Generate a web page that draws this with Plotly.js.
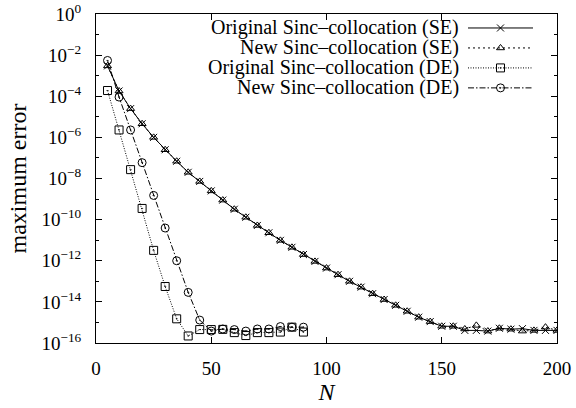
<!DOCTYPE html>
<html>
<head>
<meta charset="utf-8">
<script src="https://cdn.plot.ly/plotly-3.0.1.min.js"></script>
<style>
html,body{margin:0;padding:0;background:#fff;}
#plot{width:576px;height:408px;}
</style>
</head>
<body>
<div id="plot"></div>
<script>
// ---- data ----
const seriesNames = [
  "Original Sinc\u2013collocation (SE)",
  "New Sinc\u2013collocation (SE)",
  "Original Sinc\u2013collocation (DE)",
  "New Sinc\u2013collocation (DE)"
];
const N_SE = [5,10,15,20,25,30,35,40,45,50,55,60,65,70,75,80,85,90,95,100,
              105,110,115,120,125,130,135,140,145,150,155,160,165,170,175,180,185,190,195,200];
const N_DE = [5,10,15,20,25,30,35,40,45,50,55,60,65,70,75,80,85,90];

const origSE = [3.0e-3,1.8e-4,2.5e-5,4.6e-6,1.0e-6,2.5e-7,6.9e-8,2.0e-8,7.2e-9,2.5e-9,
                8.9e-10,3.2e-10,1.3e-10,5.2e-11,2.3e-11,9.8e-12,4.5e-12,2.0e-12,9.3e-13,4.4e-13,
                2.1e-13,1.0e-13,5.2e-14,2.5e-14,1.3e-14,6.8e-15,3.5e-15,1.8e-15,1.1e-15,6.5e-16,
                6.5e-16,4.1e-16,4.1e-16,3.8e-16,5.2e-16,4.7e-16,5.0e-16,4.1e-16,4.1e-16,4.1e-16];
const newSE  = [3.0e-3,1.8e-4,2.5e-5,4.6e-6,1.0e-6,2.5e-7,6.9e-8,2.0e-8,7.2e-9,2.5e-9,
                8.9e-10,3.2e-10,1.3e-10,5.2e-11,2.3e-11,9.8e-12,4.5e-12,2.0e-12,9.3e-13,4.4e-13,
                2.1e-13,1.0e-13,5.2e-14,2.5e-14,1.3e-14,6.8e-15,3.5e-15,1.8e-15,1.1e-15,6.5e-16,
                6.5e-16,4.8e-16,7.2e-16,3.8e-16,5.2e-16,4.7e-16,3.8e-16,4.1e-16,5.9e-16,4.1e-16];
const origDE = [1.9e-4,2.3e-6,2.7e-8,3.5e-10,3.2e-12,5.6e-14,1.5e-15,2.2e-16,4.5e-16,4.5e-16,
                4.6e-16,3.2e-16,2.3e-16,3.2e-16,3.2e-16,3.4e-16,5.9e-16,3.4e-16];
const newDE  = [5.5e-3,9.1e-5,2.3e-6,5.9e-8,1.5e-9,3.9e-11,1.0e-12,2.9e-14,1.3e-15,3.8e-16,
                4.8e-16,4.5e-16,3.8e-16,4.8e-16,4.8e-16,6.3e-16,5.9e-16,5.9e-16];

const xTicks = [0,50,100,150,200];
const yExpMajor = [0,-2,-4,-6,-8,-10,-12,-14,-16];
const yExpMinor = [-1,-3,-5,-7,-9,-11,-13,-15];

// ---- styles ----
const FONT = "Liberation Serif";
const styles = [
  {dash:"solid", symbol:"x-thin-open", size:7},
  {dash:"2px,3px", symbol:"triangle-up-open", size:7},
  {dash:"1px,1.5px", symbol:"square-open-dot", size:8},
  {dash:"6px,2px,1.5px,2px", symbol:"circle-open-dot", size:8}
];
const xs = [N_SE, N_SE, N_DE, N_DE];
const ys = [origSE, newSE, origDE, newDE];

const traces = [];
for (let i = 0; i < 4; i++) {
  traces.push({
    x: xs[i], y: ys[i], type: "scatter", mode: "lines+markers",
    name: seriesNames[i], showlegend: false,
    line: {color: "#000", width: 1, dash: styles[i].dash},
    marker: {symbol: styles[i].symbol, size: styles[i].size, color: "#000",
             line: {color: "#000", width: 1}}
  });
}

// custom gnuplot-style legend (text right-aligned, sample to its right)
const legRowsPx = [27.5, 47.5, 67.5, 87.5];
const plotL = 96, plotR = 557, plotT = 13.5, plotB = 343;
const pw = plotR - plotL, ph = plotB - plotT;
const px2x = p => (p - plotL) / pw;
const py2y = p => (plotB - p) / ph;
const shapes = [], annotations = [];
for (let i = 0; i < 4; i++) {
  const yy = py2y(legRowsPx[i]);
  annotations.push({
    xref: "paper", yref: "paper", x: px2x(461), y: yy, xanchor: "right", yanchor: "middle",
    text: seriesNames[i], showarrow: false, font: {family: FONT, size: 20, color: "#000"}
  });
  shapes.push({
    type: "line", xref: "paper", yref: "paper",
    x0: px2x(468), x1: px2x(533), y0: yy, y1: yy,
    line: {color: "#000", width: 1, dash: styles[i].dash}
  });
  traces.push({
    x: [px2x(500.5)], y: [yy], xaxis: "x2", yaxis: "y2", type: "scatter", mode: "markers",
    showlegend: false, hoverinfo: "skip",
    marker: {symbol: styles[i].symbol, size: styles[i].size, color: "#000",
             line: {color: "#000", width: 1}}
  });
}

const layout = {
  width: 576, height: 408,
  margin: {l: plotL, r: 576 - plotR, t: plotT, b: 408 - plotB, pad: 0},
  paper_bgcolor: "#fff", plot_bgcolor: "#fff",
  font: {family: FONT, size: 19, color: "#000"},
  showlegend: false,
  xaxis: {
    range: [0, 200], tickvals: xTicks, ticktext: xTicks.map(String),
    ticks: "inside", ticklen: 6, tickwidth: 1, tickcolor: "#000",
    showline: true, linecolor: "#000", linewidth: 1, mirror: "allticks",
    showgrid: false, zeroline: false,
    tickfont: {family: FONT, size: 19}, ticklabelstandoff: 8,
    title: {text: "<i>N</i>", font: {family: FONT, size: 24}, standoff: 3}
  },
  yaxis: {
    type: "log", range: [-16, 0],
    tickvals: yExpMajor.map(e => Math.pow(10, e)),
    ticktext: yExpMajor.map(e => "10<sup>" + (e < 0 ? "\u2212" + (-e) : e) + "</sup>"),
    ticks: "inside", ticklen: 6, tickwidth: 1, tickcolor: "#000",
    minor: {tickvals: yExpMinor.map(e => Math.pow(10, e)), ticks: "inside", ticklen: 3,
            tickcolor: "#000", tickwidth: 1, showgrid: false},
    showline: true, linecolor: "#000", linewidth: 1, mirror: "allticks",
    showgrid: false, zeroline: false,
    tickfont: {family: FONT, size: 19}, ticklabelstandoff: 10,
    title: {text: "maximum error", font: {family: FONT, size: 24}, standoff: 8}
  },
  xaxis2: {overlaying: "x", range: [0, 1], visible: false, fixedrange: true},
  yaxis2: {overlaying: "y", range: [0, 1], visible: false, fixedrange: true},
  shapes: shapes,
  annotations: annotations
};

Plotly.newPlot("plot", traces, layout, {displayModeBar: false, staticPlot: true});
</script>
</body>
</html>
